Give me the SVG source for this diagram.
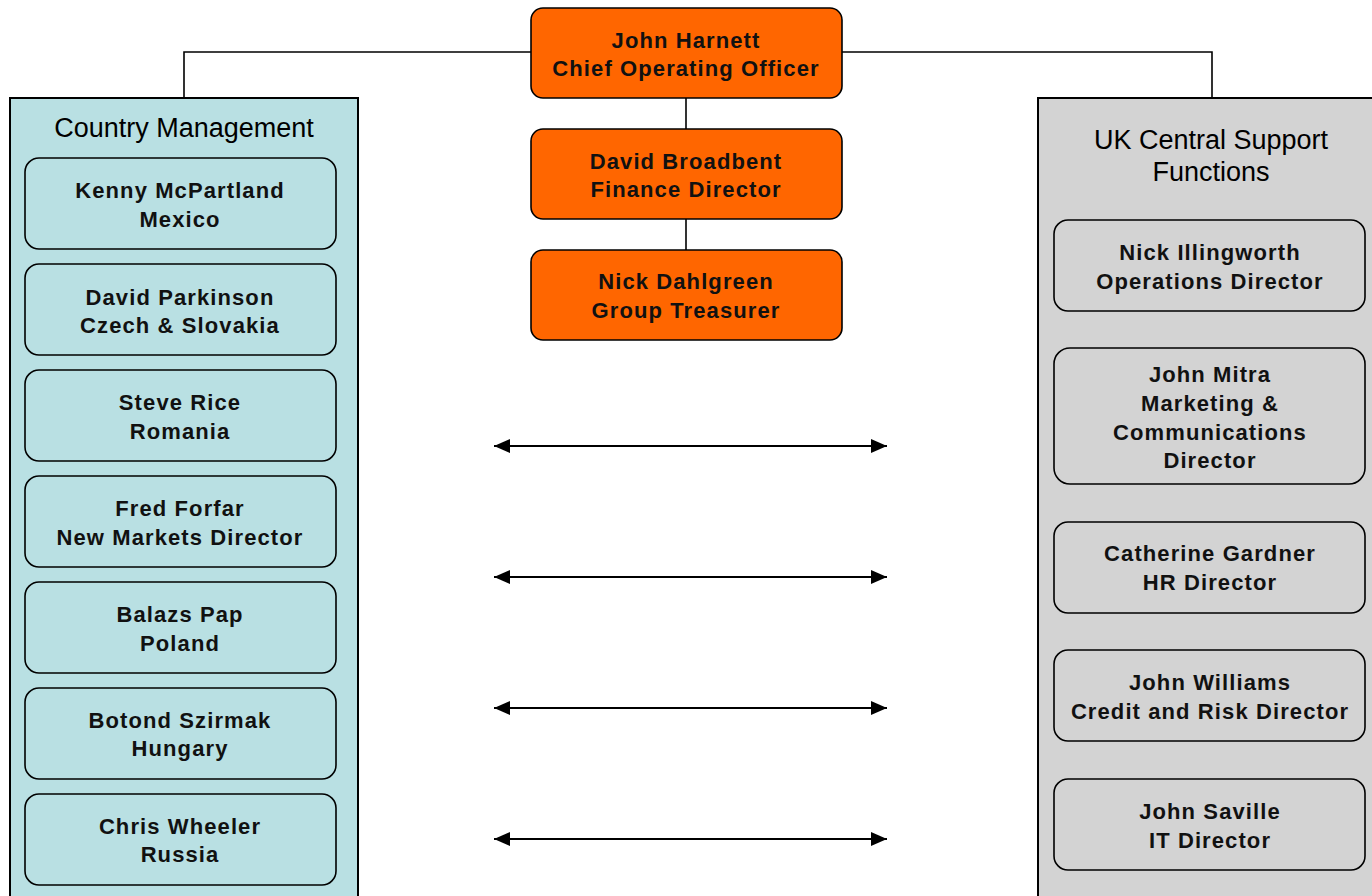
<svg xmlns="http://www.w3.org/2000/svg" width="1372" height="896" viewBox="0 0 1372 896">
<style>
.panel{stroke:#000;stroke-width:2}
.box{stroke:#000;stroke-width:1.6}
.exec{fill:#FF6600;stroke:#000;stroke-width:1.6}
.t{font-family:"Liberation Sans",Arial,sans-serif;font-weight:bold;font-size:22px;letter-spacing:1.1px;fill:#111;text-anchor:middle}
.h{font-family:"Liberation Sans",Arial,sans-serif;font-size:27px;fill:#000;text-anchor:middle}
.ln{stroke:#000;stroke-width:1.6;fill:none}
.ar{stroke:#000;stroke-width:2;fill:none;marker-start:url(#a);marker-end:url(#a)}
</style>
<defs>
<marker id="a" viewBox="0 0 16 14" refX="16" refY="7" markerWidth="16" markerHeight="14" markerUnits="userSpaceOnUse" orient="auto-start-reverse"><path d="M0,0 L16,7 L0,14 z" fill="#000"/></marker>
</defs>
<rect width="1372" height="896" fill="#fff"/>
<g id="connectors">
<polyline class="ln" points="184,98 184,52 531,52"/>
<polyline class="ln" points="842,52 1212,52 1212,98"/>
<line class="ln" x1="686" y1="98" x2="686" y2="129"/>
<line class="ln" x1="686" y1="219" x2="686" y2="250"/>
<line class="ar" x1="494" y1="446" x2="887" y2="446"/>
<line class="ar" x1="494" y1="577" x2="887" y2="577"/>
<line class="ar" x1="494" y1="708" x2="887" y2="708"/>
<line class="ar" x1="494" y1="839" x2="887" y2="839"/>
</g>
<g id="country-management">
<rect class="panel" x="10" y="98" width="348" height="810" fill="#B9E0E3"/>
<text class="h" x="184" y="137">Country Management</text>
</g>
<g id="uk-central">
<rect class="panel" x="1038" y="98" width="345" height="810" fill="#D3D3D3"/>
<text class="h" x="1211" y="149">UK Central Support</text>
<text class="h" x="1211" y="181">Functions</text>
</g>
<g id="n-harnett"><rect class="exec" x="531" y="8" width="311" height="90" rx="12"/><text class="t" x="686" y="48">John Harnett</text><text class="t" x="686" y="76">Chief Operating Officer</text></g>
<g id="n-broadbent"><rect class="exec" x="531" y="129" width="311" height="90" rx="12"/><text class="t" x="686" y="169">David Broadbent</text><text class="t" x="686" y="197">Finance Director</text></g>
<g id="n-dahlgreen"><rect class="exec" x="531" y="250" width="311" height="90" rx="12"/><text class="t" x="686" y="289">Nick Dahlgreen</text><text class="t" x="686" y="318">Group Treasurer</text></g>
<g id="n-mcpartland"><rect class="box" x="25" y="158" width="311" height="91" rx="14" fill="#B9E0E3"/><text class="t" x="180" y="198">Kenny McPartland</text><text class="t" x="180" y="227">Mexico</text></g>
<g id="n-parkinson"><rect class="box" x="25" y="264" width="311" height="91" rx="14" fill="#B9E0E3"/><text class="t" x="180" y="305">David Parkinson</text><text class="t" x="180" y="333">Czech &amp; Slovakia</text></g>
<g id="n-rice"><rect class="box" x="25" y="370" width="311" height="91" rx="14" fill="#B9E0E3"/><text class="t" x="180" y="410">Steve Rice</text><text class="t" x="180" y="439">Romania</text></g>
<g id="n-forfar"><rect class="box" x="25" y="476" width="311" height="91" rx="14" fill="#B9E0E3"/><text class="t" x="180" y="516">Fred Forfar</text><text class="t" x="180" y="545">New Markets Director</text></g>
<g id="n-pap"><rect class="box" x="25" y="582" width="311" height="91" rx="14" fill="#B9E0E3"/><text class="t" x="180" y="622">Balazs Pap</text><text class="t" x="180" y="651">Poland</text></g>
<g id="n-szirmak"><rect class="box" x="25" y="688" width="311" height="91" rx="14" fill="#B9E0E3"/><text class="t" x="180" y="728">Botond Szirmak</text><text class="t" x="180" y="756">Hungary</text></g>
<g id="n-wheeler"><rect class="box" x="25" y="794" width="311" height="91" rx="14" fill="#B9E0E3"/><text class="t" x="180" y="834">Chris Wheeler</text><text class="t" x="180" y="862">Russia</text></g>
<g id="n-illingworth"><rect class="box" x="1054" y="220" width="311" height="91" rx="14" fill="#D3D3D3"/><text class="t" x="1210" y="260">Nick Illingworth</text><text class="t" x="1210" y="289">Operations Director</text></g>
<g id="n-mitra"><rect class="box" x="1054" y="348" width="311" height="136" rx="16" fill="#D3D3D3"/><text class="t" x="1210" y="382">John Mitra</text><text class="t" x="1210" y="411">Marketing &amp;</text><text class="t" x="1210" y="440">Communications</text><text class="t" x="1210" y="468">Director</text></g>
<g id="n-gardner"><rect class="box" x="1054" y="522" width="311" height="91" rx="14" fill="#D3D3D3"/><text class="t" x="1210" y="561">Catherine Gardner</text><text class="t" x="1210" y="590">HR Director</text></g>
<g id="n-williams"><rect class="box" x="1054" y="650" width="311" height="91" rx="14" fill="#D3D3D3"/><text class="t" x="1210" y="690">John Williams</text><text class="t" x="1210" y="719">Credit and Risk Director</text></g>
<g id="n-saville"><rect class="box" x="1054" y="779" width="311" height="91" rx="14" fill="#D3D3D3"/><text class="t" x="1210" y="819">John Saville</text><text class="t" x="1210" y="848">IT Director</text></g>
</svg>
